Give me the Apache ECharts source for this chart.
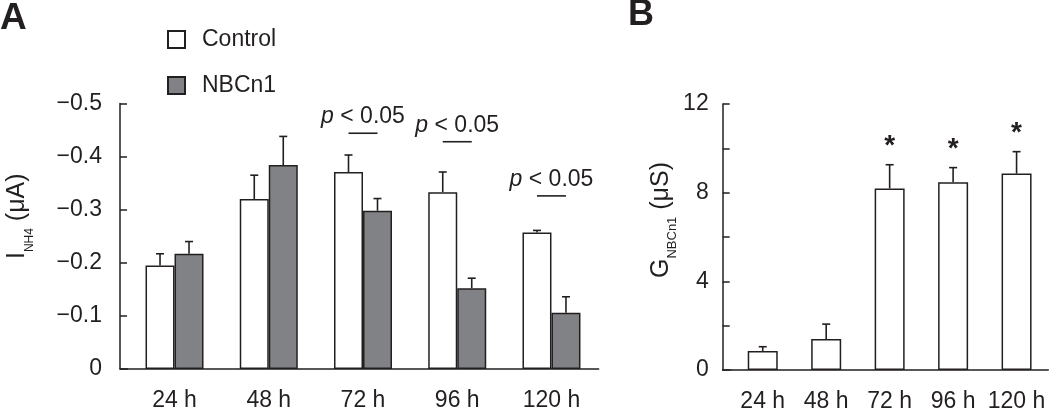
<!DOCTYPE html>
<html>
<head>
<meta charset="utf-8">
<script src="https://cdn.jsdelivr.net/npm/echarts@6/dist/echarts.min.js"></script>
<style>
  html, body { margin: 0; padding: 0; background: #ffffff; }
  #chart { width: 1050px; height: 414px; }
</style>
</head>
<body>
<div id="chart"></div>
<script>
// ---------- data ----------
const categories = ['24 h', '48 h', '72 h', '96 h', '120 h'];
// Panel A: I_NH4 (µA), negative currents
const controlI   = [-0.195, -0.320, -0.371, -0.333, -0.257];
const controlErr = [0.022, 0.045, 0.032, 0.038, 0.004];
const nbcI       = [-0.217, -0.384, -0.298, -0.152, -0.106];
const nbcErr     = [0.023, 0.054, 0.023, 0.019, 0.030];
// significance annotations in panel A (category index, bracket level)
const sigCats   = [2, 3, 4];
const sigLevels = [-0.444, -0.428, -0.326];
const sigLabel  = 'p < 0.05';
// Panel B: G_NBCn1 (µS)
const gVals = [0.86, 1.40, 8.19, 8.47, 8.86];
const gErr  = [0.19, 0.67, 1.07, 0.66, 0.99];
const starCats = [2, 3, 4];
// axis ticks
const yTicksA = { min: -0.5, max: 0, interval: 0.1 };
const yTicksB = { min: 0, max: 12, interval: 2, labelEvery: 4 };

// ---------- style ----------
const INK = '#231f20';
const GREY = '#808285';
const FONT = "'Liberation Sans', Arial, Helvetica, sans-serif";
const BAR_W = 29;

function errRender(offset) {
  return function (params, api) {
    const i = api.value(0), v = api.value(1), e = api.value(2);
    const p0 = api.coord([i, v]);
    const sign = v < 0 ? -1 : 1;
    const p1 = api.coord([i, v + sign * e]);
    const x = p0[0] + offset;
    return {
      type: 'group',
      children: [
        { type: 'line', shape: { x1: x, y1: p0[1], x2: x, y2: p1[1] }, style: { stroke: INK, lineWidth: 1.6 } },
        { type: 'line', shape: { x1: x - 4, y1: p1[1], x2: x + 4, y2: p1[1] }, style: { stroke: INK, lineWidth: 1.6 } }
      ]
    };
  };
}

const chart = echarts.init(document.getElementById('chart'), null, { renderer: 'canvas' });

const sigText = '{i|p}' + sigLabel.slice(1);

const option = {
  backgroundColor: '#ffffff',
  animation: false,
  textStyle: { fontFamily: FONT, color: INK },
  legend: {
    data: ['Control', 'NBCn1'],
    orient: 'vertical',
    left: 167, top: 28,
    itemWidth: 17, itemHeight: 17, itemGap: 23,
    icon: 'rect',
    padding: 0,
    textStyle: { fontSize: 23, color: INK, fontFamily: FONT, padding: [0, 0, 0, 12] }
  },
  grid: [
    { left: 127.4, right: 451.4, top: 103.5, bottom: 45, containLabel: false },
    { left: 731, right: 1.7, top: 104, bottom: 44, containLabel: false }
  ],
  xAxis: [
    {
      gridIndex: 0, type: 'category', data: categories,
      axisLine: { lineStyle: { color: INK, width: 1.5 } },
      axisTick: { inside: true, length: 6, lineStyle: { color: INK, width: 1.5 } },
      axisLabel: { interval: 0, fontSize: 23, color: INK, margin: 20, fontFamily: FONT }
    },
    {
      gridIndex: 1, type: 'category', data: categories,
      axisLine: { lineStyle: { color: INK, width: 1.5 } },
      axisTick: { inside: true, length: 6, lineStyle: { color: INK, width: 1.5 } },
      axisLabel: { interval: 0, fontSize: 23, color: INK, margin: 20, fontFamily: FONT, hideOverlap: false }
    }
  ],
  yAxis: [
    {
      gridIndex: 0, type: 'value', inverse: true,
      min: yTicksA.min, max: yTicksA.max, interval: yTicksA.interval,
      offset: 7.4,
      splitLine: { show: false },
      axisLine: { show: true, lineStyle: { color: INK, width: 1.5 } },
      axisTick: { show: true, inside: true, length: 7, lineStyle: { color: INK, width: 1.5 } },
      axisLabel: {
        fontSize: 23, color: INK, margin: 18, fontFamily: FONT,
        formatter: v => Math.abs(v) < 1e-9 ? '0' : '\u2212' + Math.abs(v).toFixed(1)
      },
      name: '{m|I}{s|NH4}{m| (\u03bcA)}',
      nameLocation: 'middle', nameRotate: 90, nameGap: 84,
      nameTextStyle: {
        padding: [0, 0, 0, 40],
        rich: {
          m: { fontSize: 25, color: INK, fontFamily: FONT, padding: [0, 0, 6, 0], verticalAlign: 'top' },
          s: { fontSize: 12, color: INK, fontFamily: FONT, verticalAlign: 'bottom' }
        }
      }
    },
    {
      gridIndex: 1, type: 'value',
      min: yTicksB.min, max: yTicksB.max, interval: yTicksB.interval,
      offset: 8.3,
      splitLine: { show: false },
      axisLine: { show: true, lineStyle: { color: INK, width: 1.5 } },
      axisTick: { show: true, inside: true, length: 7, lineStyle: { color: INK, width: 1.5 } },
      axisLabel: {
        fontSize: 23, color: INK, margin: 14, fontFamily: FONT,
        formatter: v => (v % yTicksB.labelEvery === 0 ? String(v) : '')
      },
      name: '{m|G}{s|NBCn1}{m| (\u03bcS)}',
      nameLocation: 'middle', nameRotate: 90, nameGap: 39,
      nameTextStyle: {
        padding: [0, 0, 0, 34],
        rich: {
          m: { fontSize: 25, color: INK, fontFamily: FONT, padding: [0, 0, 6, 0], verticalAlign: 'top' },
          s: { fontSize: 13, color: INK, fontFamily: FONT, verticalAlign: 'bottom' }
        }
      }
    }
  ],
  graphic: [
    { type: 'text', left: 0, top: 0, style: { text: 'A', font: 'bold 37px ' + FONT, fill: INK } },
    { type: 'text', left: 628, top: -3, style: { text: 'B', font: 'bold 36px ' + FONT, fill: INK } },
    { type: 'line', shape: { x1: 119.5, y1: 369, x2: 128, y2: 369 }, style: { stroke: INK, lineWidth: 1.5 } },
    { type: 'line', shape: { x1: 722, y1: 370, x2: 731.5, y2: 370 }, style: { stroke: INK, lineWidth: 1.5 } }
  ],
  series: [
    {
      name: 'Control', type: 'bar', xAxisIndex: 0, yAxisIndex: 0,
      data: controlI, barWidth: BAR_W, barGap: '0%',
      itemStyle: { color: '#ffffff', borderColor: INK, borderWidth: 1.5 }
    },
    {
      name: 'NBCn1', type: 'bar', xAxisIndex: 0, yAxisIndex: 0,
      data: nbcI, barWidth: BAR_W, barGap: '0%',
      itemStyle: { color: GREY, borderColor: INK, borderWidth: 1.5 }
    },
    {
      name: 'Control err', type: 'custom', xAxisIndex: 0, yAxisIndex: 0, z: 3,
      renderItem: errRender(-BAR_W / 2),
      data: controlI.map((v, i) => [i, v, controlErr[i]])
    },
    {
      name: 'NBCn1 err', type: 'custom', xAxisIndex: 0, yAxisIndex: 0, z: 3,
      renderItem: errRender(BAR_W / 2),
      data: nbcI.map((v, i) => [i, v, nbcErr[i]])
    },
    {
      name: 'significance', type: 'custom', xAxisIndex: 0, yAxisIndex: 0, z: 4,
      renderItem: function (params, api) {
        const c = api.coord([api.value(0), api.value(1)]);
        return {
          type: 'group',
          children: [
            { type: 'line', shape: { x1: c[0] - BAR_W / 2, y1: c[1], x2: c[0] + BAR_W / 2, y2: c[1] },
              style: { stroke: INK, lineWidth: 1.6 } },
            { type: 'text', x: c[0], y: c[1] - 5,
              style: {
                text: sigText, align: 'center', verticalAlign: 'bottom',
                fill: INK, font: '23px ' + FONT,
                rich: { i: { fontStyle: 'italic', fontSize: 23, fontFamily: FONT, fill: INK } }
              } }
          ]
        };
      },
      data: sigCats.map((c, k) => [c, sigLevels[k]])
    },
    {
      name: 'G', type: 'bar', xAxisIndex: 1, yAxisIndex: 1,
      data: gVals, barWidth: 30,
      itemStyle: { color: '#ffffff', borderColor: INK, borderWidth: 1.5 }
    },
    {
      name: 'G err', type: 'custom', xAxisIndex: 1, yAxisIndex: 1, z: 3,
      renderItem: errRender(0),
      data: gVals.map((v, i) => [i, v, gErr[i]])
    },
    {
      name: 'stars', type: 'custom', xAxisIndex: 1, yAxisIndex: 1, z: 4,
      renderItem: function (params, api) {
        const c = api.coord([api.value(0), api.value(1)]);
        return {
          type: 'text', x: c[0], y: c[1] - 4,
          style: { text: '*', align: 'center', verticalAlign: 'bottom', fill: INK, font: 'bold 28px ' + FONT }
        };
      },
      data: starCats.map(i => [i, gVals[i] + gErr[i]])
    }
  ]
};
chart.setOption(option);
</script>
</body>
</html>
